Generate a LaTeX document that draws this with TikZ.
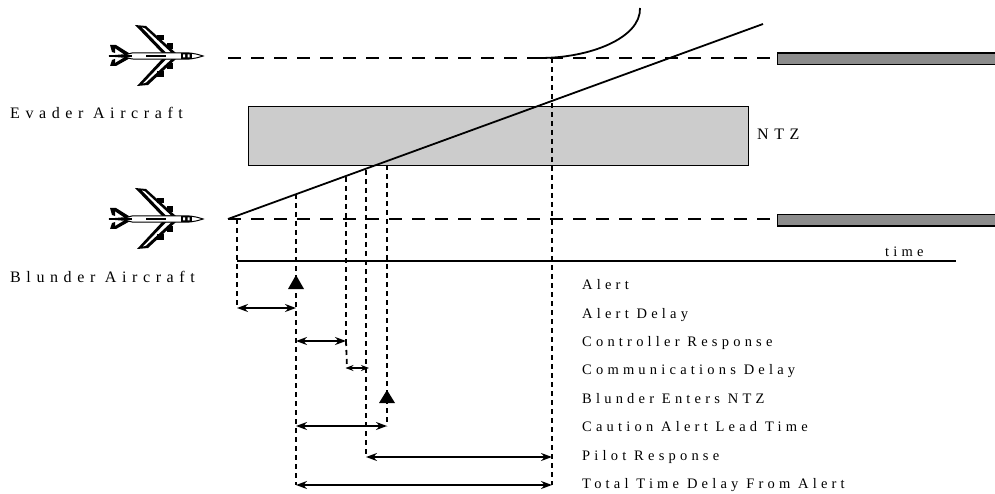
\documentclass[tikz,border=0pt]{standalone}
\usepackage{fontspec}
\setmainfont{Liberation Serif}
\usetikzlibrary{arrows.meta}
\tikzset{
  txt/.style={inner sep=0pt,anchor=base west,font=\fontsize{14.5}{17}\selectfont\addfontfeature{LetterSpace=29}},
  bigtxt/.style={inner sep=0pt,anchor=base west,font=\fontsize{16}{19}\selectfont\addfontfeature{LetterSpace=35}},
  dashlong/.style={line width=2pt,dash pattern=on 13pt off 10pt},
  dashshort/.style={line width=1.8pt,dash pattern=on 5pt off 4pt},
  solidline/.style={line width=1.8pt},
  span/.style={line width=1.7pt,{Stealth[length=11pt,width=8pt]}-{Stealth[length=11pt,width=8pt]}},
  runway/.style={draw=black,line width=1.3pt,fill=black!45},
  tri/.style={fill=black},
  plane/.pic={
    % wings
    \fill (21,-2) -- (-10,-30) -- (-21,-31) -- (7,-2) -- cycle;
    \fill (21,2) -- (-8,29) -- (-19,30) -- (7,2) -- cycle;
    \fill[white] (15,-3.5) -- (-11,-27.5) -- (-14,-28.5) -- (10,-3.5) -- cycle;
    \fill[white] (15,3.5) -- (-10,26.5) -- (-13,27.5) -- (10,3.5) -- cycle;
    % engines
    \fill (1,-21) rectangle (8,-15.5);
    \fill (11,-13) rectangle (17,-7);
    \fill (1,21) rectangle (8,15.5);
    \fill (11,13) rectangle (17,7);
    % tail
    \fill (-31,-1) -- (-46,-11) -- (-40,-11) -- (-24,-1) -- cycle;
    \fill (-31,1) -- (-46,10) -- (-40,10) -- (-24,1) -- cycle;
    \fill (-46,-11) -- (-44,-4) -- (-41,-3) -- (-41,-9) -- cycle;
    \fill (-46,10) -- (-44,4) -- (-41,3) -- (-41,8) -- cycle;
    % fuselage
    \draw[fill=white,line width=1pt] (-47,0) -- (-30,-1.4) -- (-24,-3) -- (30,-3.2) .. controls (38,-3) and (44,-1) .. (47,0) .. controls (44,1) and (38,3) .. (30,3.2) -- (-24,3) -- (-30,1.4) -- cycle;
    \draw[line width=1.6pt] (-47,0) -- (-24,0);
    \fill (-10,-.6) rectangle (10,.6);
    \fill (25,-3) rectangle (36,3);
    \fill[white] (27,-1.5) rectangle (29,1.5) (31.5,-1.5) rectangle (33.5,1.5);
  }
}
\begin{document}
\begin{tikzpicture}[x=1pt,y=-1pt]
\useasboundingbox (0,0) rectangle (995,494);
% NTZ and runways
\node[draw=black,line width=1.4pt,fill=black!20,minimum width=500pt,minimum height=59pt,inner sep=0pt,anchor=north west] (ntz) at (248,106) {};
\node[runway,minimum width=225pt,minimum height=11.5pt,inner sep=0pt,anchor=north west] (runE) at (776.5,52.5) {};
\node[runway,minimum width=225pt,minimum height=11.5pt,inner sep=0pt,anchor=north west] (runB) at (776.5,214) {};
% aircraft
\pic at (156,56) {plane};
\pic at (156,219) {plane};
% reference points
\coordinate (bStart) at (228,219);
\coordinate (bEnd) at (763,24);
\coordinate (eStart) at (228,58);
\coordinate (turn) at (540,58);
\coordinate (turnEnd) at (640,8);
\coordinate (timeL) at (237,261);
\coordinate (timeR) at (956,261);
\coordinate (a0) at (237,219);
\coordinate (a1) at (237,308);
\coordinate (b0) at (296,194);
\coordinate (b1) at (296,485);
\coordinate (b2) at (296,308);
\coordinate (b3) at (296,341);
\coordinate (b4) at (296,426);
\coordinate (c0) at (346,177);
\coordinate (c1) at (346,341);
\coordinate (c2) at (347,368);
\coordinate (d0) at (366,170);
\coordinate (d1) at (366,457);
\coordinate (d2) at (366,368);
\coordinate (e0) at (387,165);
\coordinate (e1) at (387,426);
\coordinate (f0) at (552,58);
\coordinate (f1) at (552,485);
\coordinate (f2) at (552,457);
% flight paths
\draw[dashlong] (eStart) -- (eStart -| runE.west);
\draw[dashlong] (bStart) -- (bStart -| runB.west);
\draw[solidline] (bStart) -- (bEnd);
\draw[solidline] (turn) .. controls (590,58) and (641,38) .. (turnEnd);
\draw[line width=1.8pt] (timeL) -- (timeR);
% droplines
\draw[dashshort] (a0) -- (a1);
\draw[dashshort] (b0) -- (b1);
\draw[dashshort] (c0) -- (c1);
\draw[dashshort] (c1) -- (c2);
\draw[dashshort] (d0) -- (d1);
\draw[dashshort] (e0) -- (e1);
\draw[dashshort] (f0) -- (f1);
% spans
\draw[span] (a1) -- (b2);
\draw[span] (b3) -- (c1);
\draw[line width=1.3pt,{Stealth[length=8pt,width=6pt]}-{Stealth[length=8pt,width=6pt]}] ([xshift=-1.5pt]c2) -- ([xshift=3pt]d2);
\draw[span] (b4) -- (e1);
\draw[span] (d1) -- (f2);
\draw[span] (b1) -- (f1);
% triangles
\fill[tri] (296,275) -- (304,289) -- (288,289) -- cycle;
\fill[tri] (387,390) -- (395,403) -- (379,403) -- cycle;
% labels
\node[bigtxt] (lE) at (10,119) {Evader Aircraft};
\node[bigtxt] (lB) at (10,282) {Blunder Aircraft};
\node[bigtxt] (lN) at (757,140) {NTZ};
\node[txt] (lt) at (885,256) {time};
\node[txt] (l1) at (582,289) {Alert};
\node[txt] (l2) at (582,318) {Alert Delay};
\node[txt] (l3) at (582,346) {Controller Response};
\node[txt] (l4) at (582,374) {Communications Delay};
\node[txt] (l5) at (582,403) {Blunder Enters NTZ};
\node[txt] (l6) at (582,431) {Caution Alert Lead Time};
\node[txt] (l7) at (582,460) {Pilot Response};
\node[txt] (l8) at (582,488) {Total Time Delay From Alert};
\end{tikzpicture}
\end{document}
